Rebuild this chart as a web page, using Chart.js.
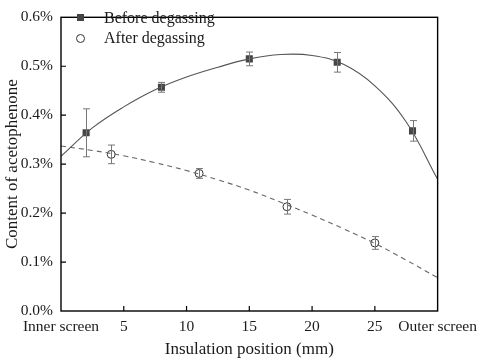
<!DOCTYPE html>
<html>
<head>
<meta charset="utf-8">
<script src="https://cdn.jsdelivr.net/npm/chart.js@4.4.1/dist/chart.umd.min.js"></script>
<style>
  html, body { margin: 0; padding: 0; background: #fff; }
  #wrap { width: 484px; height: 363px; }
</style>
</head>
<body>
<div id="wrap"><canvas id="myChart" width="484" height="363"></canvas></div>
<script>
// measured points (content in %)
var beforeX = [2, 8, 15, 22, 28];
var beforeY = [0.364, 0.457, 0.515, 0.508, 0.368];
var beforeErr = [0.049, 0.010, 0.014, 0.020, 0.021];

var afterX = [4, 11, 18, 25];
var afterY = [0.320, 0.281, 0.213, 0.139];
var afterErr = [0.019, 0.010, 0.015, 0.013];

// fitted curves, every 2.5 mm
var fitX = [0, 2.5, 5, 7.5, 10, 12.5, 15, 17.5, 20, 22.5, 25, 27.5, 30];
var fitBeforeY = [0.316, 0.374, 0.417, 0.452, 0.478, 0.498, 0.515, 0.524, 0.522, 0.504, 0.460, 0.386, 0.269];
var fitAfterY = [0.337, 0.328, 0.317, 0.303, 0.287, 0.268, 0.247, 0.222, 0.196, 0.168, 0.138, 0.104, 0.068];

var xEdgeLabels = { 0: 'Inner screen', 30: 'Outer screen' };
var legendLabels = ['Before degassing', 'After degassing'];

function pts(xs, ys) {
    return xs.map(function (x, i) { return { x: x, y: ys[i] }; });
}

var serif = '"Liberation Serif", "Times New Roman", serif';
var ink = '#1a1a1a';

// error bars, inward ticks, frame and legend
var extras = {
    id: 'extras',
    afterDatasetsDraw: function (chart) {
        var c = chart.ctx, xs = chart.scales.x, ys = chart.scales.y, a = chart.chartArea;
        c.save();
        c.strokeStyle = '#777';
        c.lineWidth = 1;
        [[beforeX, beforeY, beforeErr], [afterX, afterY, afterErr]].forEach(function (s) {
            s[0].forEach(function (x, i) {
                var px = Math.round(xs.getPixelForValue(x)) + 0.5;
                var top = ys.getPixelForValue(s[1][i] + s[2][i]);
                var bot = ys.getPixelForValue(s[1][i] - s[2][i]);
                c.beginPath();
                c.moveTo(px, top); c.lineTo(px, bot);
                c.moveTo(px - 3.5, top); c.lineTo(px + 3.5, top);
                c.moveTo(px - 3.5, bot); c.lineTo(px + 3.5, bot);
                c.stroke();
            });
        });
        // frame
        c.strokeStyle = '#000';
        c.lineWidth = 1.4;
        c.strokeRect(a.left, a.top, a.right - a.left, a.bottom - a.top);
        // inward ticks
        c.lineWidth = 1.2;
        c.beginPath();
        for (var t = 5; t <= 25; t += 5) {
            var px = xs.getPixelForValue(t);
            c.moveTo(px, a.bottom); c.lineTo(px, a.bottom - 5);
        }
        for (var v = 1; v <= 5; v++) {
            var py = ys.getPixelForValue(v / 10);
            c.moveTo(a.left, py); c.lineTo(a.left + 5, py);
        }
        c.stroke();
        // legend
        c.fillStyle = '#444';
        c.fillRect(77, 14, 7, 7);
        c.strokeStyle = '#333';
        c.lineWidth = 1;
        c.beginPath();
        c.arc(80.5, 38.5, 4, 0, Math.PI * 2);
        c.stroke();
        c.fillStyle = ink;
        c.font = '16px ' + serif;
        c.textBaseline = 'middle';
        c.fillText(legendLabels[0], 104, 19);
        c.fillText(legendLabels[1], 104, 39);
        c.restore();
    }
};

var ctx = document.getElementById('myChart').getContext('2d');
var myChart = new Chart(ctx, {
    type: 'scatter',
    data: {
        datasets: [{
            label: 'fit before',
            type: 'line',
            data: pts(fitX, fitBeforeY),
            borderColor: '#555',
            borderWidth: 1.1,
            pointRadius: 0,
            tension: 0.4,
            fill: false
        }, {
            label: 'fit after',
            type: 'line',
            data: pts(fitX, fitAfterY),
            borderColor: '#666',
            borderWidth: 1.1,
            borderDash: [5, 4],
            pointRadius: 0,
            tension: 0.4,
            fill: false
        }, {
            label: legendLabels[0],
            data: pts(beforeX, beforeY),
            pointStyle: 'rect',
            pointRadius: 5,
            backgroundColor: '#444',
            borderColor: '#444',
            borderWidth: 0
        }, {
            label: legendLabels[1],
            data: pts(afterX, afterY),
            pointStyle: 'circle',
            pointRadius: 4,
            backgroundColor: 'rgba(0,0,0,0)',
            borderColor: '#333',
            borderWidth: 1
        }]
    },
    options: {
        responsive: false,
        animation: false,
        layout: { padding: { top: 8, right: 46, left: 0, bottom: 0 } },
        plugins: {
            legend: { display: false },
            tooltip: { enabled: false }
        },
        scales: {
            x: {
                type: 'linear',
                min: 0,
                max: 30,
                afterFit: function (s) { s.height = 52; },
                ticks: {
                    stepSize: 5,
                    autoSkip: false,
                    padding: 7,
                    color: ink,
                    font: { family: serif, size: 15.5 },
                    maxRotation: 0,
                    callback: function (v) { return xEdgeLabels[v] || String(v); }
                },
                grid: { display: true, drawOnChartArea: false, drawTicks: false },
                border: { display: false },
                title: {
                    display: true,
                    text: 'Insulation position (mm)',
                    color: ink,
                    font: { family: serif, size: 17 },
                    padding: { top: 4, bottom: 3 }
                }
            },
            y: {
                min: 0,
                max: 0.6,
                afterFit: function (s) { s.width = 61; },
                ticks: {
                    stepSize: 0.1,
                    padding: 8,
                    color: ink,
                    font: { family: serif, size: 15.5 },
                    callback: function (v) { return v.toFixed(1) + '%'; }
                },
                grid: { display: true, drawOnChartArea: false, drawTicks: false },
                border: { display: false },
                title: {
                    display: true,
                    text: 'Content of acetophenone',
                    color: ink,
                    font: { family: serif, size: 17 },
                    padding: { top: 2, bottom: 2 }
                }
            }
        }
    },
    plugins: [extras]
});
</script>
</body>
</html>
